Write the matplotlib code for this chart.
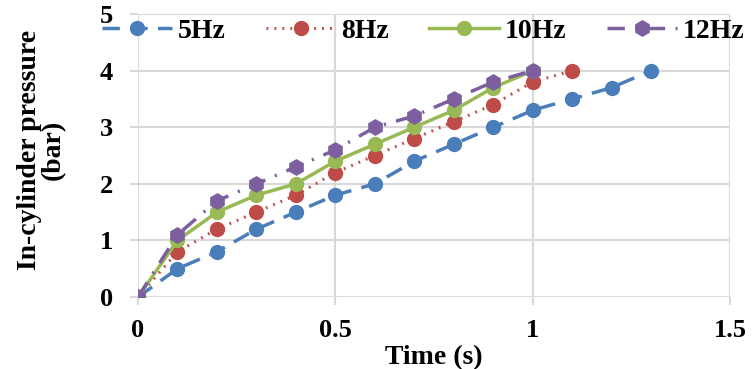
import numpy as np
import matplotlib.pyplot as plt

plt.rcParams['font.family'] = ['Liberation Serif', 'DejaVu Serif']
plt.rcParams['font.weight'] = 'bold'

t_5 = [0, 0.1, 0.2, 0.3, 0.4, 0.5, 0.6, 0.7, 0.8, 0.9, 1.0, 1.1, 1.2, 1.3]
p_5 = [0, 0.5, 0.8, 1.2, 1.5, 1.8, 2.0, 2.4, 2.7, 3.0, 3.3, 3.5, 3.7, 4.0]
t_8 = [0, 0.1, 0.2, 0.3, 0.4, 0.5, 0.6, 0.7, 0.8, 0.9, 1.0, 1.1]
p_8 = [0, 0.8, 1.2, 1.5, 1.8, 2.2, 2.5, 2.8, 3.1, 3.4, 3.8, 4.0]
t_10 = [0, 0.1, 0.2, 0.3, 0.4, 0.5, 0.6, 0.7, 0.8, 0.9, 1.0]
p_10 = [0, 1.0, 1.5, 1.8, 2.0, 2.4, 2.7, 3.0, 3.3, 3.7, 4.0]
t_12 = [0, 0.1, 0.2, 0.3, 0.4, 0.5, 0.6, 0.7, 0.8, 0.9, 1.0]
p_12 = [0, 1.1, 1.7, 2.0, 2.3, 2.6, 3.0, 3.2, 3.5, 3.8, 4.0]

x_ticks = [0, 0.5, 1, 1.5]
x_ticklabels = ['0', '0.5', '1', '1.5']
y_ticks = [0, 1, 2, 3, 4, 5]

fig = plt.figure(figsize=(7.52, 3.69), dpi=100)
ax = fig.add_axes([0.1835, 0.195, 0.7875, 0.767])

ax.plot(t_5, p_5, color='#4a7ebb', lw=2.5, ls=(0, (5, 3)), marker='o', ms=10, label='5Hz')
ax.plot(t_8, p_8, color='#be4b48', lw=2.2, ls=(0, (0.6, 2)), marker='o', ms=10, label='8Hz')
ax.plot(t_10, p_10, color='#98b954', lw=2.5, ls='-', marker='o', ms=10, label='10Hz')
ax.plot(t_12, p_12, color='#7d5fa0', lw=2.5, ls=(0, (5, 3, 0.6, 3)), marker='h', ms=11, label='12Hz')

ax.set_xlim(0, 1.5)
ax.set_ylim(0, 5)
ax.set_xticks(x_ticks)
ax.set_xticklabels(x_ticklabels)
ax.set_yticks(y_ticks)
ax.grid(True, color='#d9d9d9', lw=1.5)
ax.set_axisbelow(True)
for s in ax.spines.values():
    s.set_visible(False)
ax.tick_params(axis='both', length=6, width=1.5, color='#d9d9d9', labelsize=19)
ax.tick_params(axis='y', pad=12)
ax.tick_params(axis='x', pad=10)
for lab in ax.get_xticklabels() + ax.get_yticklabels():
    lab.set_fontweight('bold')

ax.set_xlabel('Time (s)', fontsize=20, fontweight='bold', labelpad=2)
ax.set_ylabel('In-cylinder pressure\n(bar)', fontsize=20, fontweight='bold',
              linespacing=0.95)
ax.yaxis.set_label_coords(-0.122, 0.52)

ax.legend(loc='center left', bbox_to_anchor=(0.1356, 0.915), bbox_transform=fig.transFigure,
          ncol=4, frameon=False, borderpad=0, borderaxespad=0,
          handlelength=2.52, columnspacing=1.45, handletextpad=0.2,
          prop={'weight': 'bold', 'size': 20})

fig.savefig('out.png', dpi=100)
